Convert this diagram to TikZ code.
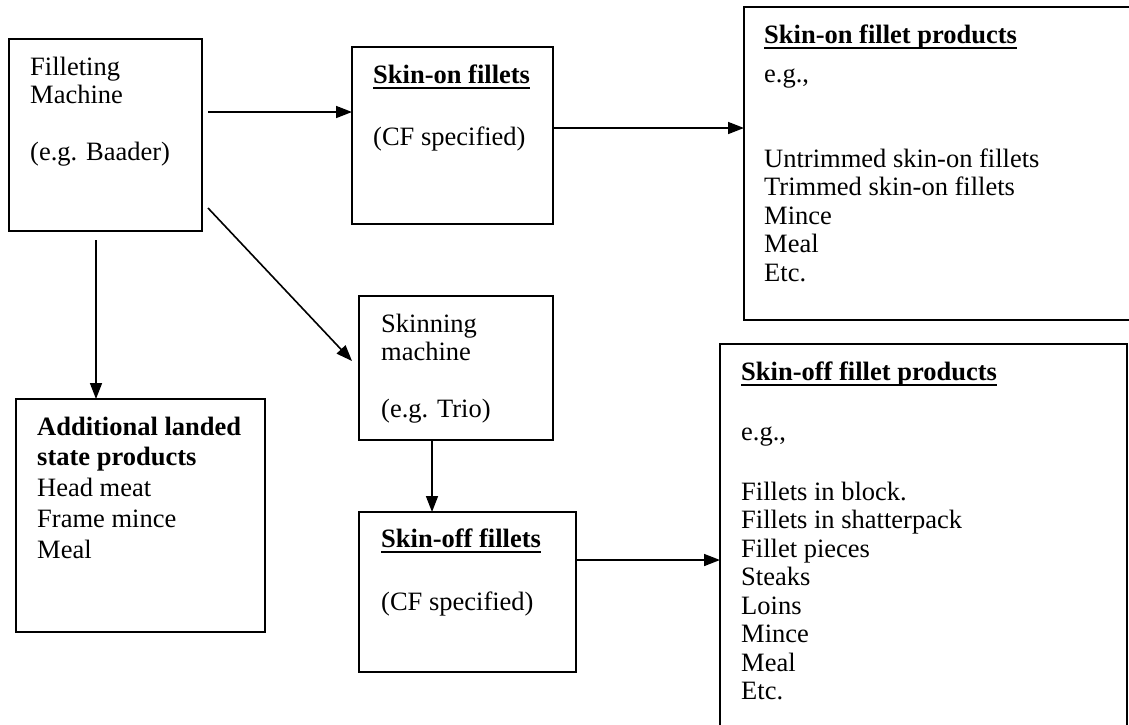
\documentclass[tikz,border=0pt]{standalone}
\usepackage{fontspec}
\setmainfont{Liberation Serif}
\usetikzlibrary{arrows.meta,calc}
\newcommand\myul[1]{\setbox0\hbox{#1}\rlap{\rule[-6pt]{\wd0}{2pt}}\box0}
\begin{document}
\begin{tikzpicture}[x=1pt,y=-1pt,
  box/.style={draw, line width=1.6pt, inner sep=0pt, outer sep=0pt, anchor=north west},
  txt/.style={anchor=north west, inner sep=0pt, align=left, font=\fontsize{26.5}{28.5}\selectfont},
  txtwide/.style={anchor=north west, inner sep=0pt, align=left, font=\fontsize{26.5}{30.75}\selectfont},
  arr/.style={-{Triangle[length=16pt,width=12pt]}, line width=1.6pt}
]
\useasboundingbox (0,0) rectangle (1129,724);
\clip (0,0) rectangle (1129,724);

% boxes
\node[box, minimum width=193pt, minimum height=192pt] (fm) at (9,39) {};
\node[box, minimum width=201pt, minimum height=177pt] (son) at (352,47) {};
\node[box, minimum width=420pt, minimum height=313pt] (sonp) at (744,7) {};
\node[box, minimum width=194pt, minimum height=144pt] (skm) at (359,296) {};
\node[box, minimum width=249pt, minimum height=233pt] (add) at (16,399) {};
\node[box, minimum width=217pt, minimum height=160pt] (sof) at (359,512) {};
\node[box, minimum width=407pt, minimum height=420pt] (sofp) at (720,344) {};

% texts
\node[txt] (fmT) at (30,55) {\strut Filleting\\Machine\\[28.5pt](e.g. Baader)};
\node[txt] (sonT) at (373,63) {\strut\myul{\textbf{Skin-on fillets}}\\[33.5pt](CF specified)};
\node[txt] (sonpT) at (764,23) {\strut\myul{\textbf{Skin-on fillet products}}\\[10.5pt]e.g.,\\[56.5pt]Untrimmed skin-on fillets\\Trimmed skin-on fillets\\Mince\\Meal\\Etc.};
\node[txt] (skmT) at (381,312) {\strut Skinning\\machine\\[28.5pt](e.g. Trio)};
\node[txtwide] (addT) at (37,413.5) {\strut\textbf{Additional landed}\\\textbf{state products}\\Head meat\\Frame mince\\Meal};
\node[txt] (sofT) at (381,527) {\strut\myul{\textbf{Skin-off fillets}}\\[34.5pt](CF specified)};
\node[txt] (sofpT) at (741,360) {\strut\myul{\textbf{Skin-off fillet products}}\\[31.5pt]e.g.,\\[31.5pt]Fillets in block.\\Fillets in shatterpack\\Fillet pieces\\Steaks\\Loins\\Mince\\Meal\\Etc.};

% connectors
\coordinate (y1) at (0,112);
\coordinate (y2) at (0,128);
\coordinate (y6) at (0,560);
\draw[arr] ($(fm.east |- y1)+(6,0)$) -- (son.west |- y1);
\draw[arr] (son.east |- y2) -- (sonp.west |- y2);
\draw[arr] ($(fm.south east)+(6,-23)$) -- ($(skm.north west)+(-7,65)$);
\draw[arr] ($(fm.south west)+(87,9)$) -- ($(add.north west)+(80,0)$);
\draw[arr] ($(skm.south west)+(73,0)$) -- ($(sof.north west)+(73,0)$);
\draw[arr] (sof.east |- y6) -- (sofp.west |- y6);
\end{tikzpicture}
\end{document}
